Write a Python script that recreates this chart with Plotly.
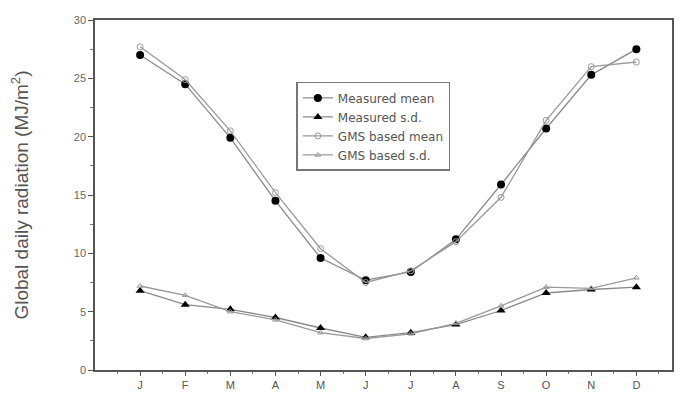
import plotly.graph_objects as go

months = ["J", "F", "M", "A", "M", "J", "J", "A", "S", "O", "N", "D"]
month_pos = list(range(1, 13))
measured_mean = [27.0, 24.5, 19.9, 14.5, 9.6, 7.7, 8.4, 11.2, 15.9, 20.7, 25.3, 27.5]
measured_sd = [6.8, 5.6, 5.2, 4.5, 3.6, 2.8, 3.2, 3.9, 5.1, 6.6, 6.9, 7.1]
gms_mean = [27.7, 24.9, 20.5, 15.2, 10.4, 7.5, 8.5, 11.0, 14.8, 21.4, 26.0, 26.4]
gms_sd = [7.2, 6.4, 5.0, 4.3, 3.2, 2.7, 3.1, 4.0, 5.5, 7.1, 7.0, 7.9]

fig = go.Figure()
fig.add_trace(go.Scatter(x=month_pos, y=measured_mean, name="Measured mean", mode="lines+markers",
                         line=dict(color="#8a8a8a", width=1.3),
                         marker=dict(symbol="circle", size=8, color="black")))
fig.add_trace(go.Scatter(x=month_pos, y=measured_sd, name="Measured s.d.", mode="lines+markers",
                         line=dict(color="#8a8a8a", width=1.3),
                         marker=dict(symbol="triangle-up", size=8, color="black")))
fig.add_trace(go.Scatter(x=month_pos, y=gms_mean, name="GMS based mean", mode="lines+markers",
                         line=dict(color="#9a9a9a", width=1.3),
                         marker=dict(symbol="circle-open", size=6, color="#999999", line=dict(width=1))))
fig.add_trace(go.Scatter(x=month_pos, y=gms_sd, name="GMS based s.d.", mode="lines+markers",
                         line=dict(color="#9a9a9a", width=1.3),
                         marker=dict(symbol="triangle-up-open", size=5, color="#999999", line=dict(width=1))))

# page body has an 8px margin, so the figure is sized/offset to compensate
fig.update_layout(
    width=666, height=386,
    margin=dict(l=87, r=0, t=12, b=24),
    paper_bgcolor="white", plot_bgcolor="white",
    font=dict(family="Liberation Sans, Arial, sans-serif", color="#555555", size=12),
    showlegend=True,
    legend=dict(x=0.349, y=0.823, xanchor="left", yanchor="top",
                bordercolor="#777777", borderwidth=1.5, bgcolor="white",
                font=dict(family="DejaVu Sans, sans-serif", size=12, color="#555555"),
                tracegroupgap=0, itemwidth=30),
)
fig.update_xaxes(range=[0, 12.79], tickvals=month_pos, ticktext=months, automargin=False,
                 showgrid=False, zeroline=False, showline=True, linecolor="#555555", linewidth=1.5,
                 mirror=True, ticks="outside", ticklen=4, tickcolor="#555555",
                 minor=dict(tickvals=[i + 0.5 for i in range(0, 13)], ticks="outside", ticklen=2, tickcolor="#777777"),
                 tickfont=dict(size=11, color="#555555"))
fig.update_yaxes(range=[0, 30], tickvals=[0, 5, 10, 15, 20, 25, 30],
                 showgrid=False, zeroline=False, showline=True, linecolor="#555555", linewidth=1.5,
                 mirror=True, ticks="outside", ticklen=5, tickcolor="#555555",
                 minor=dict(dtick=2.5, ticks="outside", ticklen=3, tickcolor="#777777"),
                 tickfont=dict(size=11, color="#666666"),
                 title=dict(text="Global daily radiation (MJ/m<sup>2</sup>)", font=dict(size=19, color="#555555"), standoff=42))

fig.write_html("out.html")
